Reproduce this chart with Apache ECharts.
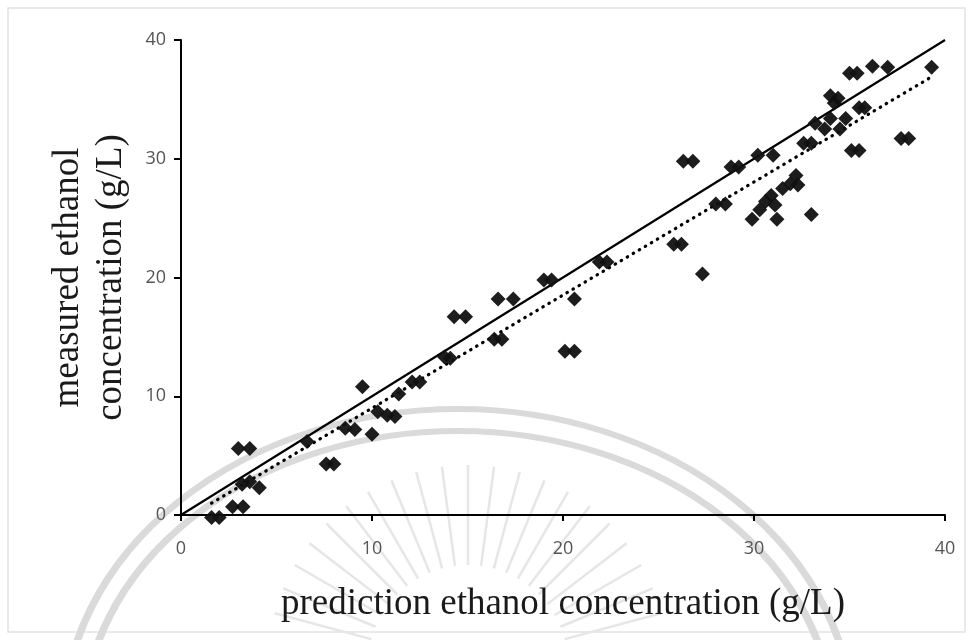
<!DOCTYPE html>
<html>
<head>
<meta charset="utf-8">
<script src="https://cdn.jsdelivr.net/npm/echarts@6/dist/echarts.min.js"></script>
<style>
  html, body { margin: 0; padding: 0; background: #ffffff; }
  #chart { width: 973px; height: 640px; }
</style>
</head>
<body>
<div id="chart"></div>
<script>
// Predicted vs. measured ethanol concentration (g/L)
const predicted = [1.6, 2.0, 2.7, 3.25, 3.0, 3.6, 3.2, 3.6, 4.1, 6.6, 7.6, 8.0, 8.6, 9.1, 9.5, 10.0, 10.3, 10.8, 11.2, 11.4,
  12.1, 12.5, 13.8, 14.1, 14.3, 14.9, 16.4, 16.8, 16.6, 17.4, 19.0, 19.4, 20.6, 20.1, 20.6, 21.9, 22.3, 25.8, 26.2, 26.3,
  26.8, 27.3, 28.0, 28.5, 28.8, 29.2, 30.2, 31.0, 29.9, 30.3, 30.6, 30.9, 31.1, 31.2, 31.5, 31.9, 32.2, 32.3, 33.0, 32.6,
  33.0, 33.2, 33.7, 34.0, 34.5, 34.8, 34.0, 34.2, 34.4, 35.5, 35.8, 35.1, 35.5, 35.0, 35.4, 36.2, 37.0, 37.7, 38.1, 39.3];
const measured = [-0.2, -0.2, 0.7, 0.7, 5.6, 5.6, 2.6, 2.8, 2.3, 6.2, 4.3, 4.3, 7.3, 7.2, 10.8, 6.8, 8.7, 8.4, 8.3, 10.2,
  11.2, 11.2, 13.3, 13.2, 16.7, 16.7, 14.8, 14.8, 18.2, 18.2, 19.8, 19.8, 18.2, 13.8, 13.8, 21.3, 21.3, 22.8, 22.8, 29.8,
  29.8, 20.3, 26.2, 26.2, 29.3, 29.3, 30.3, 30.3, 24.9, 25.7, 26.4, 26.9, 26.1, 24.9, 27.5, 27.9, 28.6, 27.8, 25.3, 31.3,
  31.3, 33.0, 32.5, 33.4, 32.5, 33.4, 35.3, 34.7, 35.1, 34.3, 34.3, 30.7, 30.7, 37.2, 37.2, 37.8, 37.7, 31.7, 31.7, 37.7];

// 1:1 reference line and fitted trend line (end points)
const identityX = [0, 40];
const identityY = [0, 40];
const trendX = [1.6, 39.3];
const trendY = [1.0, 36.9];

const axisTicks = [0, 10, 20, 30, 40];

const xTitle = 'prediction ethanol concentration (g/L)';
const yTitle = 'measured ethanol\nconcentration (g/L)';

const chart = echarts.init(document.getElementById('chart'));

const points = predicted.map((x, i) => [x, measured[i]]);
const pair = (xs, ys) => xs.map((x, i) => [x, ys[i]]);

// faint seal watermark behind the plot
const rays = [];
for (let k = 0; k < 21; k++) {
  const a = (-165 + k * 7.5) * Math.PI / 180;
  const cx = 468, cy = 665, r0 = 100, r1 = 200;
  rays.push({
    type: 'line', z: -10, silent: true,
    shape: { x1: cx + r0 * Math.cos(a), y1: cy + r0 * Math.sin(a), x2: cx + r1 * Math.cos(a), y2: cy + r1 * Math.sin(a) },
    style: { stroke: '#e6e6e6', lineWidth: 2.5 }
  });
}

const option = {
  backgroundColor: '#ffffff',
  animation: false,
  grid: { left: 181, right: 28, top: 40, bottom: 125 },
  graphic: [
    { type: 'rect', z: -20, silent: true, shape: { x: 8, y: 8, width: 957, height: 624 },
      style: { fill: 'none', stroke: '#e2e2e2', lineWidth: 1.5 } },
    { type: 'circle', z: -10, silent: true, x: 458, y: 725, scaleX: 395 / 316,
      shape: { cx: 0, cy: 0, r: 316 }, style: { fill: 'none', stroke: '#dadada', lineWidth: 6 } },
    { type: 'circle', z: -10, silent: true, x: 458, y: 725, scaleX: 375 / 294,
      shape: { cx: 0, cy: 0, r: 294 }, style: { fill: 'none', stroke: '#dadada', lineWidth: 6 } },
    ...rays
  ],
  xAxis: {
    type: 'value', min: axisTicks[0], max: axisTicks[axisTicks.length - 1], interval: 10,
    name: xTitle, nameLocation: 'middle', nameGap: 71,
    nameTextStyle: { fontFamily: 'Liberation Serif', fontSize: 37, color: '#1a1a1a' },
    axisLine: { show: true, onZero: false, lineStyle: { color: '#000000', width: 2 } },
    axisTick: { show: true, inside: false, length: 6, lineStyle: { color: '#000000', width: 2 } },
    axisLabel: { fontFamily: 'Open Sans', fontSize: 18, color: '#555555', margin: 25 },
    splitLine: { show: false }
  },
  yAxis: {
    type: 'value', min: axisTicks[0], max: axisTicks[axisTicks.length - 1], interval: 10,
    name: yTitle, nameLocation: 'middle', nameGap: 48, nameRotate: 90,
    nameTextStyle: { fontFamily: 'Liberation Serif', fontSize: 37, color: '#1a1a1a', lineHeight: 43 },
    axisLine: { show: true, onZero: false, lineStyle: { color: '#000000', width: 2 } },
    axisTick: { show: true, inside: false, length: 7, lineStyle: { color: '#000000', width: 2 } },
    axisLabel: { fontFamily: 'Open Sans', fontSize: 18, color: '#555555', margin: 15 },
    splitLine: { show: false }
  },
  series: [
    {
      type: 'line', data: pair(identityX, identityY), symbol: 'none', z: 3,
      lineStyle: { color: '#000000', width: 2.2 }
    },
    {
      type: 'line', data: pair(trendX, trendY), symbol: 'none', z: 3,
      lineStyle: { color: '#000000', width: 3.2, type: [0.5, 6.5], cap: 'round' }
    },
    {
      type: 'scatter', data: points, symbol: 'diamond', symbolSize: 15, clip: false, z: 4,
      itemStyle: { color: '#111111', opacity: 0.95 }
    }
  ]
};

chart.setOption(option);
</script>
</body>
</html>
